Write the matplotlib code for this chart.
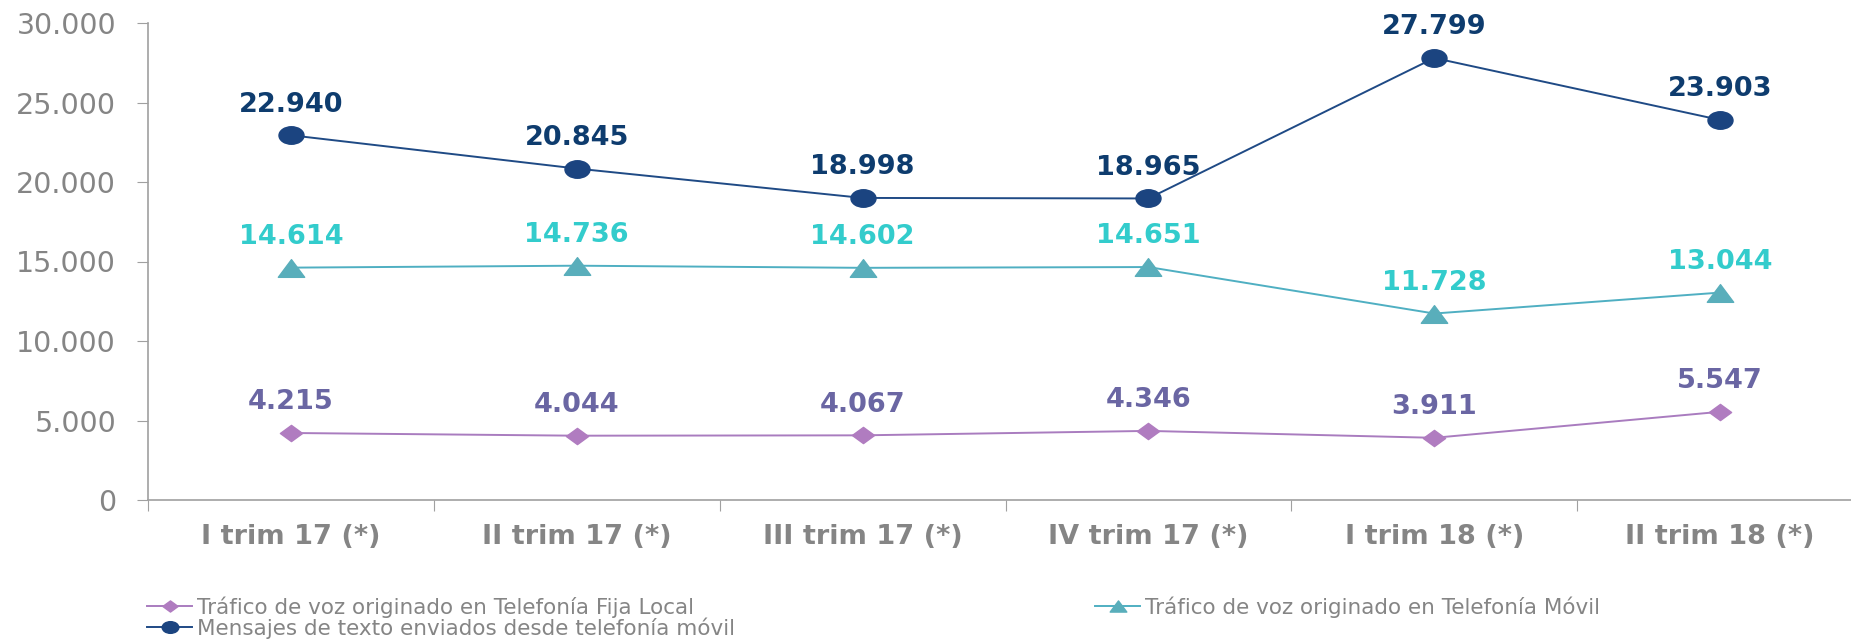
import matplotlib
matplotlib.use("Agg")
import matplotlib.pyplot as plt
from matplotlib.lines import Line2D
from matplotlib.path import Path
from matplotlib.transforms import Affine2D

trimestres = ['I trim 17 (*)', 'II trim 17 (*)', 'III trim 17 (*)',
              'IV trim 17 (*)', 'I trim 18 (*)', 'II trim 18 (*)']
fija_local = [4215, 4044, 4067, 4346, 3911, 5547]
voz_movil = [14614, 14736, 14602, 14651, 11728, 13044]
mensajes = [22940, 20845, 18998, 18965, 27799, 23903]

nombres = ['Tráfico de voz originado en Telefonía Fija Local',
           'Tráfico de voz originado en Telefonía Móvil',
           'Mensajes de texto enviados desde telefonía móvil']

gris = '#858585'
plt.rcParams['font.family'] = ['DejaVu Sans']

# marcadores algo achatados, como en la imagen original
elipse = Path.unit_circle().transformed(Affine2D().scale(1.0, 0.7))
triangulo = Path([(-1, -0.67), (1, -0.67), (0, 0.67), (-1, -0.67)],
                 [Path.MOVETO, Path.LINETO, Path.LINETO, Path.CLOSEPOLY])
rombo = Path([(-1, 0), (0, 0.73), (1, 0), (0, -0.73), (-1, 0)],
             [Path.MOVETO, Path.LINETO, Path.LINETO, Path.LINETO, Path.CLOSEPOLY])

fig = plt.figure(figsize=(18.51, 6.4), dpi=100)
ax = fig.add_axes([148 / 1851, 140 / 640, 1715 / 1851, 477 / 640])

x = list(range(len(trimestres)))

ax.plot(x, fija_local, color='#A97CBF', lw=1.4, marker=rombo, ms=16,
        mfc='#B07CC0', mec='#B07CC0')
ax.plot(x, voz_movil, color='#4FAFC2', lw=1.4, marker=triangulo, ms=19,
        mfc='#59AEBB', mec='#59AEBB')
ax.plot(x, mensajes, color='#1F4A85', lw=1.4, marker=elipse, ms=18,
        mfc='#1B4480', mec='#1B4480')

def fmt(v):
    return f'{v:,}'.replace(',', '.')

for serie, col in [(fija_local, '#6A66A3'), (voz_movil, '#33CCCC'), (mensajes, '#0E3C6E')]:
    for xi, v in zip(x, serie):
        ax.annotate(fmt(v), (xi, v), xytext=(0, 22), textcoords='offset points',
                    ha='center', va='center', fontsize=19.5, fontweight='bold', color=col)

ax.set_xlim(-0.5, 5.5)
ax.set_ylim(0, 30000)
ax.set_yticks(range(0, 30001, 5000))
ax.set_yticklabels([fmt(v) for v in range(0, 30001, 5000)])
ax.set_xticks([i - 0.5 for i in range(6)])
ax.set_xticklabels([])
ax.set_xticks(x, minor=True)
ax.set_xticklabels(trimestres, minor=True, fontsize=19.5, fontweight='bold', color=gris)
ax.tick_params(axis='x', which='minor', length=0, pad=17)
ax.tick_params(axis='x', which='major', length=8, color='#A0A0A0', direction='out')
ax.tick_params(axis='y', length=8, color='#A0A0A0', labelsize=20.5, labelcolor=gris, pad=15)

for s in ['top', 'right']:
    ax.spines[s].set_visible(False)
for s in ['left', 'bottom']:
    ax.spines[s].set_color('#A0A0A0')
    ax.spines[s].set_linewidth(1.2)

h1 = Line2D([], [], color='#A97CBF', lw=1.4, marker=rombo, ms=11, mfc='#B07CC0', mec='#B07CC0')
h2 = Line2D([], [], color='#4FAFC2', lw=1.4, marker=triangulo, ms=12, mfc='#59AEBB', mec='#59AEBB')
h3 = Line2D([], [], color='#1F4A85', lw=1.4, marker=elipse, ms=12, mfc='#1B4480', mec='#1B4480')

kw = dict(frameon=False, fontsize=15.5, labelcolor=gris, handlelength=2.1,
          handletextpad=0.22, labelspacing=0.0, borderaxespad=0, borderpad=0)
fig.legend([h1, h3], [nombres[0], nombres[2]], loc='upper left',
           bbox_to_anchor=(147 / 1851, 1 - 596 / 640), **kw)
fig.legend([h2], [nombres[1]], loc='upper left',
           bbox_to_anchor=(1095 / 1851, 1 - 596 / 640), **kw)

fig.savefig('out.png', dpi=100)
